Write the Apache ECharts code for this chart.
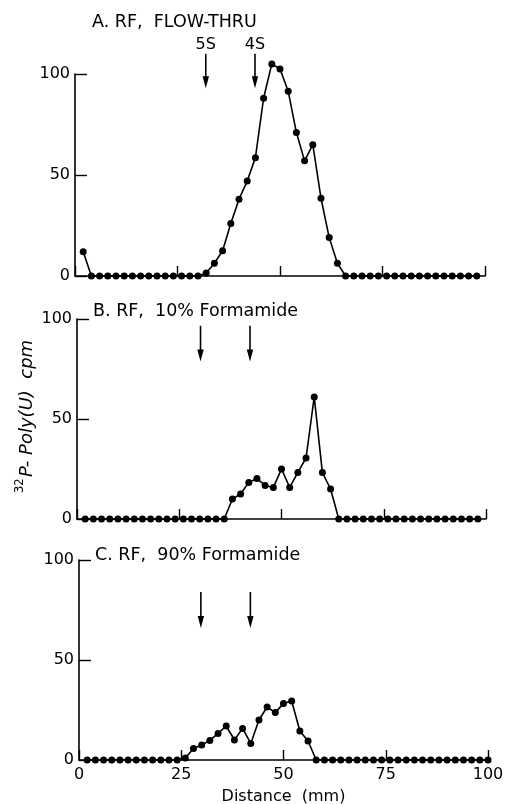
<!DOCTYPE html>
<html>
<head>
<meta charset="utf-8">
<script src="https://cdn.jsdelivr.net/npm/echarts/dist/echarts.min.js"></script>
<style>
  html, body { margin: 0; padding: 0; background: #ffffff; }
  #chart { width: 505px; height: 804px; }
</style>
</head>
<body>
<div id="chart"></div>
<script>
// Fraction positions along the gel (mm)
const distanceAB = [2, 4, 6, 8, 10, 12, 14, 16, 18, 20, 22, 24, 26, 28, 30, 32, 34, 36, 38, 40,
  42, 44, 46, 48, 50, 52, 54, 56, 58, 60, 62, 64, 66, 68, 70, 72, 74, 76, 78, 80,
  82, 84, 86, 88, 90, 92, 94, 96, 98];
const distanceC = [2, 4, 6, 8, 10, 12, 14, 16, 18, 20, 22, 24, 26, 28, 30, 32, 34, 36, 38, 40,
  42, 44, 46, 48, 50, 52, 54, 56, 58, 60, 62, 64, 66, 68, 70, 72, 74, 76, 78, 80,
  82, 84, 86, 88, 90, 92, 94, 96, 98, 100];

// 32P-Poly(U) counts (cpm)
const cpmFlowThru = [12, 0, 0, 0, 0, 0, 0, 0, 0, 0, 0, 0, 0, 0, 0, 1.5, 6.3, 12.5, 26, 38,
  47, 58.6, 88, 105, 102.5, 91.5, 71, 57, 65, 38.5, 19, 6.3, 0, 0, 0, 0, 0, 0, 0, 0,
  0, 0, 0, 0, 0, 0, 0, 0, 0];
const cpmFormamide10 = [0, 0, 0, 0, 0, 0, 0, 0, 0, 0, 0, 0, 0, 0, 0, 0, 0, 0, 10, 12.5,
  18.3, 20.2, 16.8, 15.7, 25, 15.8, 23.3, 30.5, 61, 23.2, 15, 0, 0, 0, 0, 0, 0, 0, 0, 0,
  0, 0, 0, 0, 0, 0, 0, 0, 0];
const cpmFormamide90 = [0, 0, 0, 0, 0, 0, 0, 0, 0, 0, 0, 0, 1, 5.8, 7.5, 9.8, 13.3, 17, 10, 15.8,
  8.3, 20, 26.5, 23.7, 28.3, 29.5, 14.5, 9.5, 0, 0, 0, 0, 0, 0, 0, 0, 0, 0, 0, 0,
  0, 0, 0, 0, 0, 0, 0, 0, 0, 0];

// Marker arrows: [distance, arrow top (cpm units), arrow tip (cpm units)]
const markersA = [[31.9, 110, 93], [43.9, 110, 93]];
const markersB = [[30.2, 96.6, 78.8], [42.3, 96.6, 78.8]];
const markersC = [[29.8, 84, 66], [41.9, 84, 66]];
const markerLabels = ['5S', '4S'];

const panelTitles = ['A. RF,  FLOW-THRU', 'B. RF,  10% Formamide', 'C. RF,  90% Formamide'];
const xTickLabels = ['0', '25', '50', '75', '100'];
const yAxisIsotope = '32';
const yAxisTitle = 'P- Poly(U)  cpm';
const xAxisTitle = 'Distance  (mm)';

const FONT = 'DejaVu Sans';
const INK = '#000000';

const grids = [
  { left: 75, top: 74, width: 410, height: 202 },
  { left: 77, top: 319, width: 409, height: 200 },
  { left: 79, top: 560, width: 409, height: 200 }
];

function arrowRenderer(labels) {
  return function (params, api) {
    const x = api.value(0), top = api.value(1), tip = api.value(2);
    const p1 = api.coord([x, top]);
    const p2 = api.coord([x, tip]);
    const head = 12, half = 3.2;
    const children = [
      { type: 'line', shape: { x1: p1[0], y1: p1[1], x2: p2[0], y2: p2[1] - head + 2 },
        style: { stroke: INK, lineWidth: 1.6 } },
      { type: 'polygon', shape: { points: [[p2[0], p2[1]], [p2[0] - half, p2[1] - head], [p2[0] + half, p2[1] - head]] },
        style: { fill: INK } }
    ];
    if (labels) {
      children.push({ type: 'text', x: p1[0], y: p1[1] - 9,
        style: { text: labels[params.dataIndex], fontSize: 16, fontFamily: FONT, fill: INK,
                 align: 'center', verticalAlign: 'middle' } });
    }
    return { type: 'group', children: children };
  };
}

function xAxisFor(i) {
  const last = i === 2;
  return {
    gridIndex: i, type: 'value', min: 0, max: 100, interval: 25,
    axisLine: { show: true, onZero: false, lineStyle: { color: INK, width: 1.6 } },
    axisTick: { show: true, inside: true, length: 10, lineStyle: { color: INK, width: 1.4 } },
    axisLabel: { show: last, margin: 7, fontSize: 16, fontFamily: FONT, color: INK,
                 formatter: function (v) { return xTickLabels[Math.round(v / 25)]; } },
    splitLine: { show: false },
    name: last ? xAxisTitle : '', nameLocation: 'middle', nameGap: 29,
    nameTextStyle: { fontSize: 16, fontFamily: FONT, color: INK }
  };
}

function yAxisFor(i) {
  return {
    gridIndex: i, type: 'value', min: 0, max: 100, interval: 50,
    axisLine: { show: true, onZero: false, lineStyle: { color: INK, width: 1.6 } },
    axisTick: { show: true, inside: true, length: 12, lineStyle: { color: INK, width: 1.4 } },
    axisLabel: { show: true, margin: 5, fontSize: 16, fontFamily: FONT, color: INK },
    splitLine: { show: false }
  };
}

function profile(i, dist, cpm) {
  return {
    type: 'line', xAxisIndex: i, yAxisIndex: i,
    data: dist.map(function (d, k) { return [d, cpm[k]]; }),
    symbol: 'circle', symbolSize: 7, clip: false, silent: true,
    lineStyle: { color: INK, width: 1.6 },
    itemStyle: { color: INK, borderWidth: 0 }
  };
}

function arrows(i, markers, labels) {
  return {
    type: 'custom', xAxisIndex: i, yAxisIndex: i, silent: true, clip: false,
    data: markers, renderItem: arrowRenderer(labels)
  };
}

const titleY = [22, 311, 555];
const titleX = [92, 93, 95];

const chart = echarts.init(document.getElementById('chart'), null, { renderer: 'canvas' });
chart.setOption({
  backgroundColor: '#ffffff',
  animation: false,
  grid: grids.map(function (g) { return Object.assign({ containLabel: false, outerBoundsMode: 'none' }, g); }),
  xAxis: [0, 1, 2].map(xAxisFor),
  yAxis: [0, 1, 2].map(yAxisFor),
  series: [
    profile(0, distanceAB, cpmFlowThru),
    profile(1, distanceAB, cpmFormamide10),
    profile(2, distanceC, cpmFormamide90),
    arrows(0, markersA, markerLabels),
    arrows(1, markersB, null),
    arrows(2, markersC, null)
  ],
  graphic: panelTitles.map(function (t, i) {
    return { type: 'text', x: titleX[i], y: titleY[i], silent: true,
      style: { text: t, fontSize: 17.5, fontFamily: FONT, fill: INK, verticalAlign: 'middle' } };
  }).concat([
    // rotated y-axis title: isotope superscript, then the italic label reading upward
    { type: 'text', x: 20, y: 493, rotation: Math.PI / 2, silent: true,
      style: { text: yAxisIsotope, fontSize: 11.5, fontFamily: FONT, fill: INK,
               align: 'left', verticalAlign: 'middle' } },
    { type: 'text', x: 27, y: 477, rotation: Math.PI / 2, silent: true,
      style: { text: yAxisTitle, fontSize: 18, fontFamily: FONT, fontStyle: 'italic', fill: INK,
               align: 'left', verticalAlign: 'middle' } }
  ])
});
</script>
</body>
</html>
